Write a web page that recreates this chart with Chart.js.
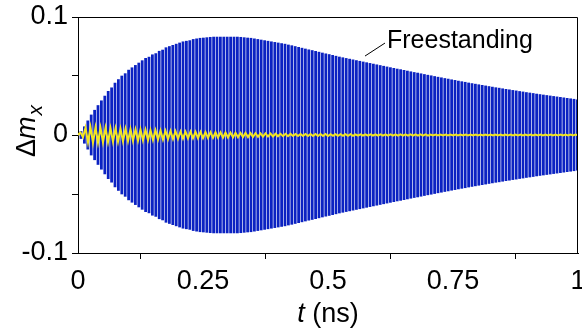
<!DOCTYPE html>
<html>
<head>
<meta charset="utf-8">
<script src="https://cdn.jsdelivr.net/npm/chart.js@4.4.1/dist/chart.umd.min.js"></script>
<style>
  body{margin:0;background:#fff}
  canvas{display:block}
</style>
</head>
<body>
<canvas id="chart" width="582" height="336"></canvas>
<script>
// time axis (ns) and ticks
const xTicks=[0,0.25,0.5,0.75,1]
const yTicks=[-0.1,-0.05,0,0.05,0.1]
const yLabelled=[-0.1,0,0.1]

// blue (freestanding): peak amplitude of each oscillation cycle
const blueStart=0.006, bluePeriod=0.0068
const blueAmp=[
 0.003,0.007,0.012,0.017,0.021,0.025,0.029,0.033,0.037,0.040,
 0.044,0.047,0.050,0.052,0.055,0.057,0.059,0.061,0.063,0.065,
 0.066,0.068,0.069,0.071,0.072,0.074,0.075,0.076,0.077,0.078,
 0.079,0.0795,0.080,0.081,0.0815,0.082,0.0822,0.0825,0.0828,0.083,
 0.083,0.083,0.083,0.083,0.083,0.083,0.083,0.0828,0.0825,0.0822,
 0.082,0.0815,0.081,0.0805,0.080,0.0795,0.079,0.0785,0.078,0.0775,
 0.077,0.0763,0.0757,0.075,0.0743,0.0736,0.0729,0.0722,0.0716,0.0709,
 0.0702,0.0695,0.0688,0.0682,0.0675,0.0668,0.0661,0.0655,0.0649,0.0643,
 0.0637,0.0631,0.0625,0.0619,0.0613,0.0607,0.0601,0.0595,0.0589,0.0583,
 0.0577,0.0571,0.0565,0.0559,0.0554,0.0548,0.0542,0.0536,0.053,0.0525,
 0.0519,0.0513,0.0507,0.0502,0.0496,0.049,0.0485,0.0479,0.0474,0.0468,
 0.0463,0.0457,0.0452,0.0447,0.0441,0.0436,0.0431,0.0426,0.0421,0.0416,
 0.0411,0.0406,0.0401,0.0397,0.0392,0.0387,0.0383,0.0378,0.0374,0.0369,
 0.0365,0.036,0.0356,0.0352,0.0347,0.0343,0.0339,0.0335,0.0331,0.0327,
 0.0323,0.0319,0.0315,0.0311,0.0307,0.0303,0.0299
]

// yellow: peak amplitude of each cycle
const yellowStart=0.005, yellowPeriod=0.01
const yellowAmp=[
 0.002,0.0062,0.0066,0.0064,0.0062,0.006,0.0058,0.0056,0.0054,0.0052,
 0.005,0.0048,0.0046,0.0044,0.0042,0.004,0.0038,0.0036,0.0034,0.0032,
 0.003,0.0029,0.0028,0.0027,0.0026,0.0025,0.0024,0.0023,0.0022,0.0021,
 0.002,0.0019,0.0018,0.0017,0.0016,0.0015,0.0014,0.0013,0.0012,0.0011,
 0.001,0.001,0.0009,0.0009,0.0009,0.0008,0.0008,0.0008,0.0008,0.0008,
 0.0007,0.0007,0.0007,0.0007,0.0007,0.0006,0.0006,0.0006,0.0006,0.0006,
 0.0005,0.0005,0.0005,0.0005,0.0005,0.0005,0.0005,0.0005,0.0005,0.0005,
 0.0004,0.0004,0.0004,0.0004,0.0004,0.0004,0.0004,0.0004,0.0004,0.0004,
 0.0004,0.0004,0.0004,0.0004,0.0004,0.0003,0.0003,0.0003,0.0003,0.0003,
 0.0003,0.0003,0.0003,0.0003,0.0003,0.0003,0.0003,0.0003,0.0003,0.0003
]

const annotationText='Freestanding'
const annotationAt={x:0.618,y:0.0737}

const FONT='"Liberation Sans", Arial, sans-serif'
Chart.defaults.font.family=FONT
Chart.defaults.color='#000'

const blueBars=blueAmp.map((a,k)=>({x:blueStart+k*bluePeriod,y:[-a,a]}))
const yellowLine=[{x:0,y:0}]
yellowAmp.forEach((a,k)=>{
  const t=yellowStart+k*yellowPeriod
  yellowLine.push({x:t,y:a})
  yellowLine.push({x:t+yellowPeriod/2,y:-a})
})

const framePlugin={
  id:'frame',
  afterDraw(chart){
    const {ctx,chartArea:a,scales}=chart
    ctx.save()
    ctx.strokeStyle='#000'
    ctx.lineWidth=1
    ctx.beginPath()
    ctx.moveTo(a.left,a.top+0.5)
    ctx.lineTo(a.right-0.5,a.top+0.5)
    ctx.lineTo(a.right-0.5,a.bottom)
    ctx.stroke()

    // y title: Δm_x
    ctx.fillStyle='#000'
    ctx.textBaseline='alphabetic'
    ctx.translate(35,157)
    ctx.rotate(-Math.PI/2)
    ctx.font='27px '+FONT
    ctx.fillText('Δ',0,0)
    let w=ctx.measureText('Δ').width
    ctx.font='italic 27px '+FONT
    ctx.fillText('m',w,0)
    w+=ctx.measureText('m').width
    ctx.font='italic 21px '+FONT
    ctx.fillText('x',w+1,7)
    ctx.setTransform(1,0,0,1,0,0)

    // x title: t (ns)
    ctx.font='italic 27px '+FONT
    const tw=ctx.measureText('t').width
    ctx.font='27px '+FONT
    const rw=ctx.measureText(' (ns)').width
    const cx=(a.left+a.right)/2-(tw+rw)/2
    ctx.font='italic 27px '+FONT
    ctx.fillText('t',cx,322)
    ctx.font='27px '+FONT
    ctx.fillText(' (ns)',cx+tw,322)

    // annotation
    const px=scales.x.getPixelForValue(annotationAt.x)
    const py=scales.y.getPixelForValue(annotationAt.y)
    ctx.font='25px '+FONT
    ctx.fillText(annotationText,px,py)
    ctx.beginPath()
    ctx.moveTo(px-22,py+8)
    ctx.lineTo(px-2,py-5)
    ctx.stroke()
    ctx.restore()
  }
}

new Chart(document.getElementById('chart'),{
  data:{
    datasets:[
      {type:'line',data:yellowLine,borderColor:'#f3e51f',borderWidth:2,pointRadius:0,tension:0,order:0},
      {type:'bar',data:blueBars,backgroundColor:'#0b22c2',barThickness:2.1,borderWidth:0,order:1}
    ]
  },
  options:{
    responsive:false,
    animation:false,
    layout:{padding:{top:17,right:4,left:0,bottom:0}},
    plugins:{legend:{display:false},tooltip:{enabled:false}},
    scales:{
      x:{
        type:'linear',min:0,max:1,offset:false,
        afterBuildTicks(s){s.ticks=xTicks.map(v=>({value:v}))},
        afterFit(s){s.height=83;s.paddingLeft=0;s.paddingRight=0},
        ticks:{font:{size:27},padding:6,maxRotation:0,callback:v=>String(v)},
        grid:{drawOnChartArea:false,tickLength:6,color:'#000'},
        border:{color:'#000',width:1}
      },
      y:{
        min:-0.1,max:0.1,
        afterBuildTicks(s){s.ticks=yTicks.map(v=>({value:v}))},
        afterFit(s){s.width=78;s.paddingTop=0;s.paddingBottom=0},
        ticks:{font:{size:27},padding:4,callback:v=>yLabelled.some(l=>Math.abs(l-v)<1e-9)?String(Math.round(v*10)/10):''},
        grid:{drawOnChartArea:false,tickLength:6,color:'#000'},
        border:{color:'#000',width:1}
      }
    }
  },
  plugins:[framePlugin]
})
</script>
</body>
</html>
